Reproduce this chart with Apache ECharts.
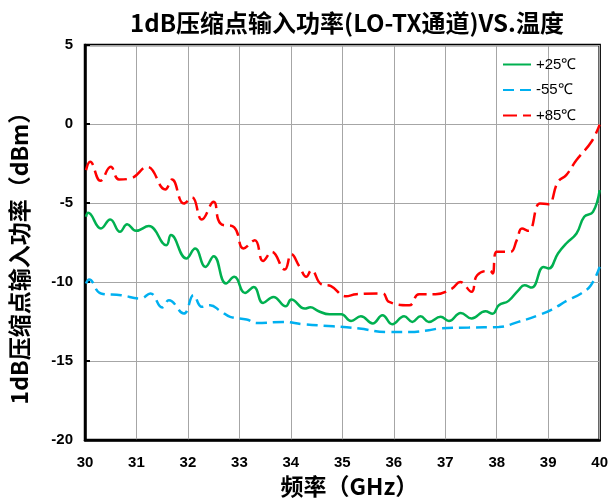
<!DOCTYPE html>
<html>
<head>
<meta charset="utf-8">
<script src="https://cdn.jsdelivr.net/npm/echarts@6/dist/echarts.min.js"></script>
<style>
  html, body { margin: 0; padding: 0; background: #fff; }
  #chart { width: 611px; height: 503px; }
</style>
</head>
<body>
<div id="chart"></div>
<script>
// 1dB compression input power of the LO-TX path, measured at three temperatures
const seriesNames = ['+25℃', '-55℃', '+85℃'];

const freq25 = [30.02, 30.06, 30.31, 30.49, 30.68, 30.82, 30.99, 31.24, 31.58, 31.67, 31.97, 32.14, 32.34, 32.50,
  32.74, 32.90, 33.11, 33.28, 33.46, 33.66, 33.90, 34.01, 34.27, 34.38, 34.53, 34.75, 34.98, 35.17, 35.36, 35.59,
  35.78, 35.97, 36.20, 36.36, 36.52, 36.68, 36.91, 37.07, 37.30, 37.51, 37.78, 37.92, 38.04, 38.23, 38.42, 38.54,
  38.68, 38.91, 39.01, 39.19, 39.35, 39.55, 39.70, 39.87, 40.00];
const pwr25 = [-5.87, -5.62, -6.61, -6.04, -6.82, -6.34, -6.76, -6.46, -7.67, -7.03, -8.51, -7.88, -9.04, -8.36,
  -10.09, -9.67, -10.69, -10.31, -11.32, -10.94, -11.53, -11.11, -11.68, -11.60, -11.83, -12.04, -12.04, -12.46, -12.16, -12.62,
  -12.10, -12.67, -12.16, -12.52, -12.16, -12.52, -12.20, -12.46, -11.95, -12.31, -11.85, -12.00, -11.47, -11.19, -10.52, -10.20,
  -10.35, -9.04, -9.14, -8.19, -7.56, -6.93, -5.87, -5.56, -4.18];

const freqM55 = [30.02, 30.08, 30.31, 30.70, 31.08, 31.27, 31.50, 31.63, 31.92, 32.11, 32.27, 32.43, 32.63, 32.82,
  33.14, 33.34, 33.85, 34.24, 34.82, 35.33, 35.85, 36.30, 36.68, 36.88, 37.46, 38.04, 38.42, 38.81, 39.07, 39.38,
  39.64, 39.83, 40.00];
const pwrM55 = [-10.09, -9.84, -10.72, -10.83, -11.04, -10.72, -11.61, -11.15, -11.99, -10.83, -11.57, -11.47, -11.83, -12.20,
  -12.37, -12.59, -12.52, -12.67, -12.80, -12.94, -13.16, -13.16, -13.05, -12.94, -12.88, -12.84, -12.52, -12.10, -11.74, -11.15,
  -10.72, -10.20, -9.04];

const freq85 = [30.02, 30.10, 30.30, 30.50, 30.66, 30.89, 31.21, 31.56, 31.69, 31.92, 32.08, 32.27, 32.50, 32.63,
  32.90, 33.08, 33.30, 33.46, 33.63, 33.88, 34.01, 34.17, 34.30, 34.40, 34.59, 34.78, 35.07, 35.27, 35.78, 35.91,
  36.30, 36.49, 36.81, 37.13, 37.29, 37.51, 37.62, 37.87, 37.92, 38.00, 38.26, 38.39, 38.49, 38.62, 38.84, 39.00,
  39.19, 39.35, 39.55, 39.84, 40.00];
const pwr85 = [-2.92, -2.39, -3.59, -2.71, -3.51, -3.44, -2.71, -4.14, -3.51, -5.03, -4.65, -6.04, -4.92, -6.29,
  -6.54, -7.88, -7.35, -8.66, -8.09, -9.21, -8.24, -9.04, -9.67, -9.25, -10.14, -10.26, -10.90, -10.77, -10.72, -11.26,
  -11.47, -10.77, -10.77, -10.41, -9.99, -10.62, -9.57, -9.29, -9.46, -8.09, -8.09, -7.35, -6.61, -6.76, -5.03, -5.07,
  -3.66, -3.23, -2.28, -1.12, -0.04];

const pairs = (xs, ys) => xs.map((x, i) => [x, ys[i]]);

const cjk = '"Noto Sans CJK SC", sans-serif';
const num = '"Liberation Sans", Arial, sans-serif';

const chart = echarts.init(document.getElementById('chart'), null, { renderer: 'canvas' });
chart.setOption({
  animation: false,
  backgroundColor: '#ffffff',
  title: {
    text: '1dB压缩点输入功率(LO-TX通道)VS.温度',
    left: 342,
    top: 6,
    textAlign: 'center',
    textStyle: { fontFamily: cjk, fontWeight: 'bold', fontSize: 24, color: '#000' }
  },
  legend: {
    orient: 'vertical',
    left: 497,
    top: 52,
    itemWidth: 28,
    itemHeight: 14,
    itemGap: 10.5,
    itemStyle: { opacity: 0 },
    textStyle: { fontFamily: num, fontSize: 15, color: '#000' },
    data: seriesNames
  },
  grid: {
    left: 84, right: 9, top: 45, bottom: 62,
    show: true, borderColor: '#000', borderWidth: 2.5,
    containLabel: false
  },
  xAxis: {
    type: 'value',
    min: 30, max: 40, interval: 1,
    name: '频率（GHz）',
    nameLocation: 'middle',
    nameGap: 33,
    nameTextStyle: { fontFamily: cjk, fontWeight: 'bold', fontSize: 23, color: '#000', padding: [0, 0, 0, 14] },
    axisLine: { show: true, onZero: false, lineStyle: { color: '#000', width: 2.5 } },
    axisTick: { show: false },
    axisLabel: { margin: 15, fontFamily: num, fontWeight: 'bold', fontSize: 15, color: '#000' },
    splitLine: { show: true, lineStyle: { color: '#a6a6a6', width: 1 } }
  },
  yAxis: {
    type: 'value',
    min: -20, max: 5, interval: 5,
    name: '1dB压缩点输入功率（dBm）',
    nameLocation: 'middle',
    nameGap: 54,
    nameTextStyle: { fontFamily: cjk, fontWeight: 'bold', fontSize: 23, color: '#000', padding: [0, 20, 0, 0] },
    axisLine: { show: true, onZero: false, lineStyle: { color: '#000', width: 2.5 } },
    axisTick: { show: true, inside: true, length: 5, lineStyle: { color: '#000', width: 2 } },
    axisLabel: { margin: 12, fontFamily: num, fontWeight: 'bold', fontSize: 15, color: '#000' },
    splitLine: { show: true, lineStyle: { color: '#a6a6a6', width: 1 } }
  },
  series: [
    {
      name: seriesNames[0], type: 'line', smooth: 0.45, symbol: 'none',
      data: pairs(freq25, pwr25),
      itemStyle: { color: '#00b050' },
      lineStyle: { color: '#00b050', width: 2.5 }
    },
    {
      name: seriesNames[1], type: 'line', smooth: 0.45, symbol: 'none',
      data: pairs(freqM55, pwrM55),
      itemStyle: { color: '#00b0f0' },
      lineStyle: { color: '#00b0f0', width: 2.5, type: [11, 6] }
    },
    {
      name: seriesNames[2], type: 'line', smooth: 0.45, symbol: 'none',
      data: pairs(freq85, pwr85),
      itemStyle: { color: '#ff0000' },
      lineStyle: { color: '#ff0000', width: 2.5, type: [14, 6] }
    }
  ]
});
</script>
</body>
</html>
